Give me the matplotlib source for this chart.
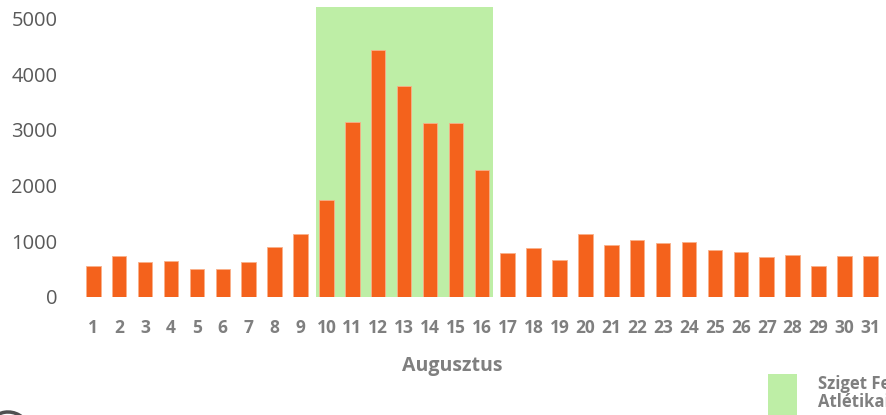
import matplotlib
matplotlib.use("Agg")
import matplotlib.pyplot as plt
from matplotlib.patches import Rectangle, Arc

# ---- data ----
days = list(range(1, 32))
visitors = [552, 727, 629, 647, 504, 504, 619, 888, 1128,
            1734, 3142, 4437, 3795, 3124, 3124, 2279,
            786, 876, 665, 1128, 935, 1025, 971, 984, 834, 810, 714, 745, 552, 727, 727]
tick_labels = [str(d) for d in days]
yticks = [0, 1000, 2000, 3000, 4000, 5000]
festival_start = 10
festival_end = 16
festival_height = 5210
xlabel = "Augusztus"
legend_lines = ["Sziget Fesztivál", "Atlétikai VB"]

W, H = 886, 415
fig = plt.figure(figsize=(W / 100, H / 100), dpi=100)
plt.rcParams['font.family'] = ['Open Sans', 'DejaVu Sans']

# axes geometry in pixels
ax_left_px, ax_right_px = 70, 886
base_px, top_px = 296.7, 0
ax = fig.add_axes([ax_left_px / W, (H - base_px) / H,
                   (ax_right_px - ax_left_px) / W, (base_px - top_px) / H])

px_per_day = 25.9
first_px = 93.3
ax.set_xlim(1 - (first_px - ax_left_px) / px_per_day,
            1 + (ax_right_px - first_px) / px_per_day)
ax.set_ylim(0, 296.7 / 0.0556)

orange = '#F4621C'
green = '#BEEEA6'

# festival band
left = festival_start - 0.41
right = festival_end + 0.44
ax.bar((left + right) / 2, festival_height, width=right - left,
       color=green, zorder=1, linewidth=0)

ax.bar(days, visitors, width=0.56, color=orange, zorder=2,
       edgecolor='#f9b08a', linewidth=0.6)

for s in ax.spines.values():
    s.set_visible(False)
ax.set_facecolor('none')

ax.set_yticks(yticks)
ax.set_yticklabels([str(v) for v in yticks], fontsize=14.5, color='#595959')
ax.tick_params(axis='y', length=0, pad=9)

ax.set_xticks(days)
ax.set_xticklabels(tick_labels, fontsize=12.5, fontweight='bold', color='#7f7f7f')
ax.tick_params(axis='x', length=0, pad=16)

fig.text(452 / W, 1 - 366 / H, xlabel, ha='center', va='center',
         fontsize=14, fontweight='bold', color='#7f7f7f')

# legend (clipped at bottom right, as in the reference)
fig.patches.append(Rectangle((768 / W, 0), 29 / W, (415 - 374) / H,
                             transform=fig.transFigure, color=green, linewidth=0))
fig.text(818 / W, 1 - 384 / H, legend_lines[0], ha='left', va='center',
         fontsize=12, fontweight='bold', color='#7f7f7f')
fig.text(818 / W, 1 - 402 / H, legend_lines[1], ha='left', va='center',
         fontsize=12, fontweight='bold', color='#7f7f7f')

# small clipped arc sliver at bottom-left
fig.patches.append(Arc((8 / W, 1 - 434 / H), 44 / W, 44 / H, theta1=40, theta2=170,
                       transform=fig.transFigure, color='#505050', linewidth=2.5))

fig.savefig("out.png", dpi=100)
